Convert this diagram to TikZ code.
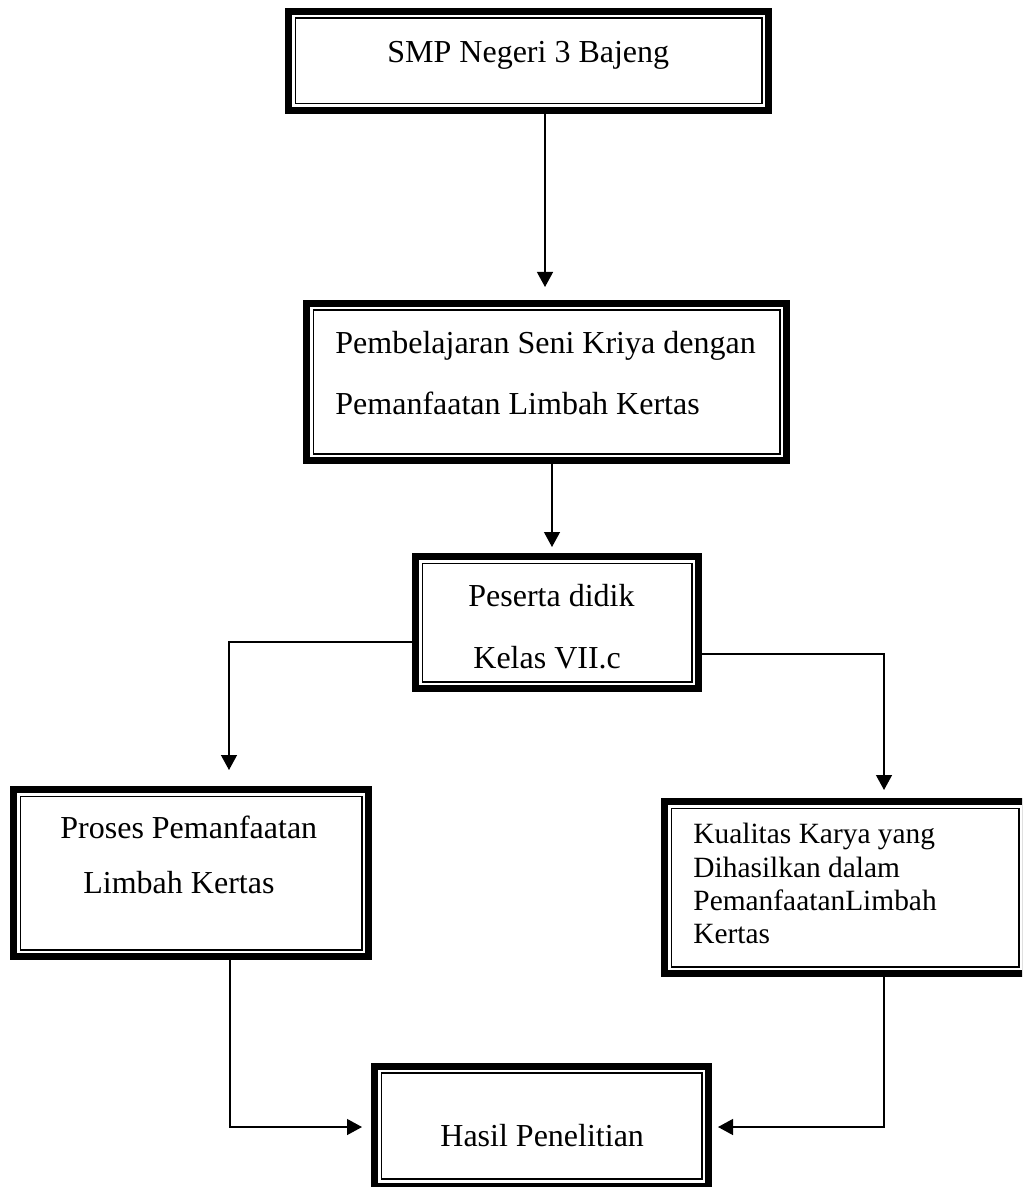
\documentclass[tikz,border=0pt]{standalone}
\usepackage{fontspec}
\setmainfont{Liberation Serif}
\usetikzlibrary{arrows.meta,calc}
\begin{document}
\begin{tikzpicture}[x=0.5pt,y=-0.5pt,
  obox/.style={draw, line width=3.5pt, rectangle, inner sep=0pt, outer sep=0pt},
  ibox/.style={draw, line width=0.9pt},
  conn/.style={line width=0.65pt, -{Triangle[width=8pt,length=7.5pt]}},
  txt/.style={anchor=base west, inner sep=0pt, font=\fontsize{16pt}{16pt}\selectfont},
  stxt/.style={anchor=base west, inner sep=0pt, font=\fontsize{14.7pt}{14.7pt}\selectfont}]
\useasboundingbox (0,0) rectangle (1022,1187);
\clip (0,0) rectangle (1022,1187);
% boxes
\node[obox, minimum width=240pt, minimum height=49.5pt] (b1) at (528.5,61) {};
\node[obox, minimum width=240pt, minimum height=78.5pt] (b2) at (546.5,382) {};
\node[obox, minimum width=141.5pt, minimum height=66pt] (b3) at (557,622.5) {};
\node[obox, minimum width=177.5pt, minimum height=83.5pt] (b4) at (191,873) {};
\node[obox, minimum width=180.5pt, minimum height=86pt] (b5) at (845,887.5) {};
\node[obox, minimum width=167pt, minimum height=60pt] (b6) at (541.5,1126) {};
\foreach \bx in {b1,b2,b3,b4,b5,b6}{
  \draw[ibox] ($(\bx.north west)+(3.45pt,-3.45pt)$) rectangle ($(\bx.south east)+(-3.45pt,3.45pt)$);
}
% texts
\node[txt] (t1) at (387,63) {SMP Negeri 3 Bajeng};
\node[txt] (t2a) at (335,353) {Pembelajaran Seni Kriya dengan};
\node[txt] (t2b) at (335,414) {Pemanfaatan Limbah Kertas};
\node[txt] (t3a) at (468,606) {Peserta didik};
\node[txt] (t3b) at (473,668) {Kelas VII.c};
\node[txt] (t4a) at (60,838) {Proses Pemanfaatan};
\node[txt] (t4b) at (83,893) {Limbah Kertas};
\node[stxt] (t5a) at (693,843) {Kualitas Karya yang};
\node[stxt] (t5b) at (693,877) {Dihasilkan dalam};
\node[stxt] (t5c) at (693,910) {PemanfaatanLimbah};
\node[stxt] (t5d) at (693,943) {Kertas};
\node[txt] (t6) at (440,1146) {Hasil Penelitian};
% connectors
\draw[conn] ([shift={(16.5,0)}]b1.south) -- ([shift={(-1.5,-16.5)}]b2.north);
\draw[conn] ([shift={(5.5,0)}]b2.south) -- ([shift={(-5,-9.5)}]b3.north);
\draw[conn] ([shift={(0,19.5)}]b3.west) -| ([shift={(38,-19.5)}]b4.north);
\draw[conn] ([shift={(0,31.5)}]b3.east) -| ([shift={(39,-11.5)}]b5.north);
\draw[conn] ([shift={(39,0)}]b4.south) |- ([shift={(-12.5,1)}]b6.west);
\draw[conn] ([shift={(39,0)}]b5.south) |- ([shift={(9.5,1)}]b6.east);
\end{tikzpicture}
\end{document}
